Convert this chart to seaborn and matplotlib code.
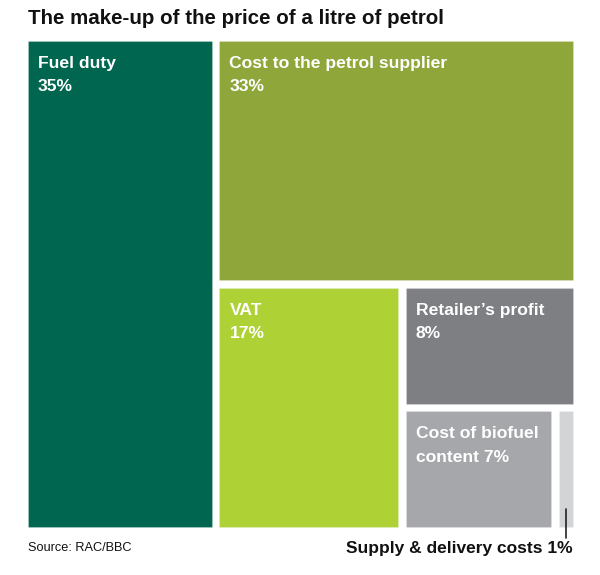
import matplotlib
matplotlib.use("Agg")
import matplotlib.pyplot as plt
import seaborn as sns

labels = ["Fuel duty\n35%", "Cost to the petrol supplier\n33%", "VAT\n17%",
          "Retailer\u2019s profit\n8%", "Cost of biofuel\ncontent 7%", ""]
values = [35, 33, 17, 8, 7, 1]
colors = ["#00664f", "#8fa63a", "#aed136", "#7e7f83", "#a6a7ab", "#d3d4d6"]
title = "The make-up of the price of a litre of petrol"
source = "Source: RAC/BBC"
small_note = "Supply & delivery costs 1%"

sns.set_theme(style="white")
plt.rcParams['font.family'] = ['Liberation Sans', 'DejaVu Sans']

W, H = 553.0, 494.0
fig = plt.figure(figsize=(6, 5.75), dpi=100)
ax = fig.add_axes([24 / 600, (575 - 531) / 575, W / 600, H / 575])
ax.set_xlim(0, W)
ax.set_ylim(H, 0)
ax.axis("off")

# treemap layout computed from the values
tot = sum(values)
rects = []
w0 = W * values[0] / tot
rects.append((0, 0, w0, H))
rw = W - w0
h1 = H * values[1] / sum(values[1:])
rects.append((w0, 0, rw, h1))
bh = H - h1
w2 = rw * values[2] / sum(values[2:])
rects.append((w0, h1, w2, bh))
cw = rw - w2
h3 = bh * values[3] / sum(values[3:])
rects.append((w0 + w2, h1, cw, h3))
bh2 = bh - h3
w4 = cw * values[4] / sum(values[4:])
rects.append((w0 + w2, h1 + h3, w4, bh2))
rects.append((w0 + w2 + w4, h1 + h3, cw - w4, bh2))

pad = 3.8
for (x, y, w, h), c, lab in zip(rects, colors, labels):
    ax.bar(x + pad, h - 2 * pad, width=w - 2 * pad, bottom=y + pad, align="edge",
           color=c, edgecolor=(1, 1, 1, 0.2), linewidth=0.8)
    if lab:
        ax.text(x + pad + 10, y + pad + 15, lab, ha="left", va="top",
                color="white", fontsize=12.6, fontweight="bold", linespacing=1.72)

# leader line for the smallest slice
sx, sy, sw, sh = rects[5]
ax.plot([sx + sw / 2, sx + sw / 2], [sy + sh - 22, sy + sh + 7], color="#222222",
        lw=1.2, clip_on=False)

fig.text(28 / 600, 1 - 19 / 575, title, ha="left", va="center", fontsize=14.8,
         fontweight="bold", color="#111111")
fig.text(28 / 600, 1 - 548 / 575, source, ha="left", va="center", fontsize=9.2,
         color="#111111")
fig.text(573 / 600, 1 - 549 / 575, small_note, ha="right", va="center", fontsize=12.5,
         fontweight="bold", color="#111111")

fig.savefig("out.png", dpi=100, facecolor="white")
